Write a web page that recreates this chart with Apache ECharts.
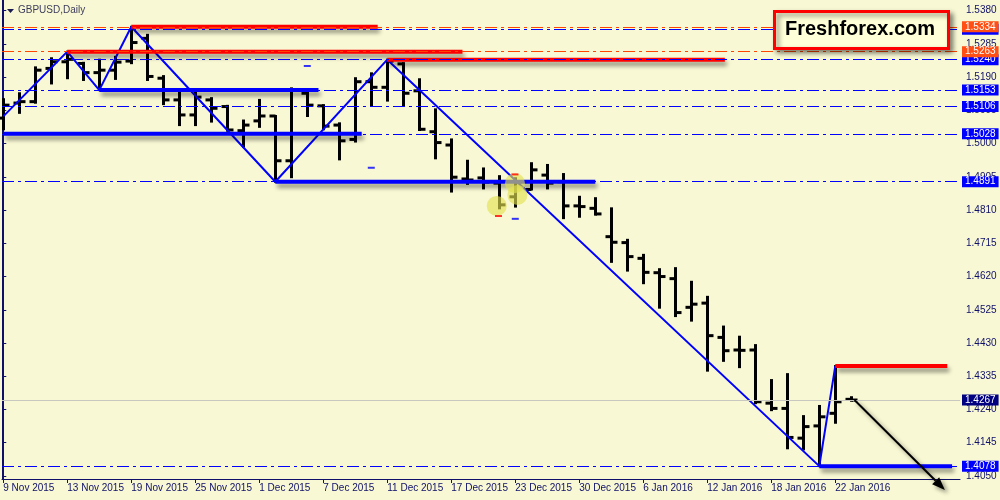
<!DOCTYPE html>
<html>
<head>
<meta charset="utf-8">
<title>GBPUSD Daily</title>
<script src="https://cdn.jsdelivr.net/npm/echarts@6/dist/echarts.min.js"></script>
<style>
  html, body { margin: 0; padding: 0; background: #f8f8d4; }
  #chart { width: 1000px; height: 500px; }
</style>
</head>
<body>
<div id="chart"></div>
<script>
// daily bars, 9 Nov 2015 .. 25 Jan 2016
const dates = [
  '9 Nov 2015', '10 Nov 2015', '11 Nov 2015', '12 Nov 2015', '13 Nov 2015',
  '16 Nov 2015', '17 Nov 2015', '18 Nov 2015', '19 Nov 2015', '20 Nov 2015',
  '23 Nov 2015', '24 Nov 2015', '25 Nov 2015', '26 Nov 2015', '27 Nov 2015',
  '30 Nov 2015', '1 Dec 2015', '2 Dec 2015', '3 Dec 2015', '4 Dec 2015',
  '7 Dec 2015', '8 Dec 2015', '9 Dec 2015', '10 Dec 2015', '11 Dec 2015',
  '14 Dec 2015', '15 Dec 2015', '16 Dec 2015', '17 Dec 2015', '18 Dec 2015',
  '21 Dec 2015', '22 Dec 2015', '23 Dec 2015', '24 Dec 2015', '28 Dec 2015',
  '29 Dec 2015', '30 Dec 2015', '31 Dec 2015', '4 Jan 2016', '5 Jan 2016',
  '6 Jan 2016', '7 Jan 2016', '8 Jan 2016', '11 Jan 2016', '12 Jan 2016',
  '13 Jan 2016', '14 Jan 2016', '15 Jan 2016', '18 Jan 2016', '19 Jan 2016',
  '20 Jan 2016', '21 Jan 2016', '22 Jan 2016', '25 Jan 2016'
];
const opens = [
  1.5073, 1.5116, 1.5120, 1.5215, 1.5234, 1.5229, 1.5203, 1.5210, 1.5236, 1.5301,
  1.5187, 1.5125, 1.5082, 1.5125, 1.5106, 1.5037, 1.5065, 1.5079, 1.4951, 1.5144,
  1.5108, 1.5053, 1.5012, 1.5177, 1.5161, 1.5228, 1.5151, 1.5034, 1.4996, 1.4899,
  1.4902, 1.4887, 1.4848, 1.4869, 1.4910, 1.4891, 1.4822, 1.4815, 1.4734, 1.4717,
  1.4672, 1.4631, 1.4614, 1.4532, 1.4544, 1.4446, 1.4410, 1.4410, 1.4258, 1.4243,
  1.4158, 1.4193, 1.4229, 1.4269
];
const highs = [
  1.5127, 1.5144, 1.5218, 1.5244, 1.5263, 1.5231, 1.5240, 1.5248, 1.5334, 1.5311,
  1.5193, 1.5148, 1.5153, 1.5130, 1.5108, 1.5066, 1.5125, 1.5079, 1.5158, 1.5146,
  1.5110, 1.5058, 1.5187, 1.5201, 1.5240, 1.5230, 1.5184, 1.5098, 1.5012, 1.4951,
  1.4929, 1.4907, 1.4901, 1.4944, 1.4939, 1.4913, 1.4848, 1.4844, 1.4815, 1.4725,
  1.4682, 1.4641, 1.4644, 1.4605, 1.4562, 1.4477, 1.4448, 1.4424, 1.4324, 1.4341,
  1.4221, 1.4250, 1.4364, 1.4275
];
const lows = [
  1.5041, 1.5088, 1.5117, 1.5172, 1.5187, 1.5182, 1.5153, 1.5185, 1.5230, 1.5182,
  1.5113, 1.5053, 1.5053, 1.5063, 1.5037, 1.4991, 1.5048, 1.4891, 1.4904, 1.5079,
  1.5041, 1.4955, 1.5006, 1.5108, 1.5123, 1.5108, 1.5039, 1.4958, 1.4863, 1.4885,
  1.4872, 1.4815, 1.4820, 1.4869, 1.4872, 1.4787, 1.4791, 1.4797, 1.4662, 1.4637,
  1.4601, 1.4531, 1.4507, 1.4494, 1.4351, 1.4379, 1.4361, 1.4258, 1.4238, 1.4129,
  1.4126, 1.4078, 1.4202, 1.4265
];
const closes = [
  1.5110, 1.5120, 1.5210, 1.5234, 1.5241, 1.5203, 1.5210, 1.5233, 1.5289, 1.5192,
  1.5125, 1.5082, 1.5133, 1.5101, 1.5039, 1.5053, 1.5079, 1.4951, 1.5153, 1.5110,
  1.5050, 1.5008, 1.5177, 1.5161, 1.5236, 1.5144, 1.5041, 1.5003, 1.4904, 1.4896,
  1.4890, 1.4825, 1.4890, 1.4925, 1.4887, 1.4822, 1.4820, 1.4799, 1.4718, 1.4677,
  1.4632, 1.4620, 1.4517, 1.4541, 1.4451, 1.4408, 1.4409, 1.4262, 1.4243, 1.4160,
  1.4191, 1.4219, 1.4262, 1.4267
];

// axis ticks
const priceTicks = [1.5380, 1.5285, 1.5190, 1.5095, 1.5000, 1.4905, 1.4810, 1.4715,
  1.4620, 1.4525, 1.4430, 1.4335, 1.4240, 1.4145, 1.4050];
const dateTicks = [0, 4, 8, 12, 16, 20, 24, 28, 32, 36, 40, 44, 48, 52];

// zigzag (bar index, price)
const zigzag = [[0, 1.5078], [4, 1.5263], [6, 1.5153], [8, 1.5334], [17, 1.4891],
  [24, 1.5240], [51, 1.4078], [52, 1.4364]];

// thick resistance / support segments
const resPrices = [1.5334, 1.5263, 1.5240, 1.4364];
const resStart = [8, 4, 24, 52];
const resEnd = [23.4, 28.7, 45.1, 59.0];
const supPrices = [1.5153, 1.5028, 1.4891, 1.4078];
const supStart = [6, 0, 17, 51];
const supEnd = [19.7, 22.4, 37.0, 59.3];

// dash-dot levels with price tags on the right axis
const levelPrices = [1.5327, 1.5334, 1.5240, 1.5263, 1.5153, 1.5106, 1.5028, 1.4891, 1.4078, 1.4267];
const levelKinds = ['blue', 'red', 'blue', 'red', 'blue', 'blue', 'blue', 'blue', 'blue', 'bid'];

// order markers around 22-23 Dec
const markerCircles = [[30.84, 1.4822], [31.98, 1.4887], [32.13, 1.4853]];
const blueDashes = [[19.0, 1.5222], [23.0, 1.4931], [32.0, 1.4785]];
const redDashes = [[30.95, 1.4793], [31.98, 1.4912]];

// forecast arrow (from, to)
const arrowPts = [[53.2, 1.4267], [58.85, 1.4010]];

const FONT = 'Liberation Sans';
const NAVY = '#10106a';

const chart = echarts.init(document.getElementById('chart'));

const ohlc = dates.map((d, i) => [i, opens[i], highs[i], lows[i], closes[i]]);

const levelStyle = {
  red: { line: '#ff4500', tag: '#ff4f14', type: [12, 4, 3, 4] },
  blue: { line: '#0000ff', tag: '#0000ff', type: [12, 4, 3, 4] },
  bid: { line: '#c8c8c0', tag: '#000080', type: 'solid' }
};

const segSeries = (prices, starts, ends, color) => prices.map((p, k) => ({
  type: 'line',
  z: 4,
  symbol: 'none',
  silent: true,
  data: [[starts[k], p], [ends[k], p]],
  lineStyle: {
    color: color, width: 4, cap: 'butt',
    shadowColor: 'rgba(0,0,0,0.45)', shadowBlur: 4, shadowOffsetX: 2, shadowOffsetY: 4
  }
}));

const option = {
  animation: false,
  backgroundColor: '#f8f8d4',
  grid: { left: 2, right: 40, top: 0, bottom: 21 },
  xAxis: {
    type: 'value',
    min: -0.08,
    max: 59.795,
    splitLine: { show: false },
    axisLine: { show: true, onZero: false, lineStyle: { color: NAVY, width: 1 } },
    axisTick: { show: true, customValues: dateTicks, length: 4, lineStyle: { color: NAVY } },
    axisLabel: {
      customValues: dateTicks,
      formatter: v => dates[v] || '',
      align: 'left',
      margin: 4,
      color: NAVY,
      fontFamily: FONT,
      fontSize: 10
    }
  },
  yAxis: [{
    type: 'value',
    position: 'right',
    min: 1.40412,
    max: 1.54106,
    splitLine: { show: false },
    axisLine: { show: true, lineStyle: { color: NAVY, width: 1 } },
    axisTick: { show: true, customValues: priceTicks, length: 3, lineStyle: { color: NAVY } },
    axisLabel: {
      customValues: priceTicks,
      formatter: v => v.toFixed(4),
      margin: 6,
      color: NAVY,
      fontFamily: FONT,
      fontSize: 10
    }
  }, {
    type: 'value',
    position: 'left',
    min: 1.40412,
    max: 1.54106,
    splitLine: { show: false },
    axisLine: { show: true, lineStyle: { color: NAVY, width: 1 } },
    axisTick: { show: false },
    axisLabel: { show: false }
  }],
  graphic: [
    { type: 'polygon', shape: { points: [[7, 9], [14, 9], [10.5, 13]] }, style: { fill: '#1a1a50' } },
    {
      type: 'text', left: 18, top: 5,
      style: { text: 'GBPUSD,Daily', fill: '#3c3c5c', font: '10px "Liberation Sans"' }
    },
    {
      type: 'rect', left: 773, top: 10, z: 10,
      shape: { width: 174, height: 37 },
      style: {
        fill: '#ffffd8', stroke: '#ff0000', lineWidth: 3,
        shadowColor: 'rgba(0,0,0,0.45)', shadowBlur: 5, shadowOffsetX: 3, shadowOffsetY: 3
      }
    },
    {
      type: 'text', z: 11, x: 860, y: 29,
      style: {
        text: 'Freshforex.com', fill: '#000', align: 'center', verticalAlign: 'middle',
        font: 'bold 20px "Liberation Sans"'
      }
    }
  ],
  series: [
    {
      // full width dash-dot levels + right axis tags
      type: 'line',
      z: 1,
      data: [],
      markLine: {
        silent: true,
        symbol: ['none', 'none'],
        precision: 4,
        animation: false,
        data: levelPrices.map((p, k) => {
          const s = levelStyle[levelKinds[k]];
          return {
            yAxis: p,
            lineStyle: { color: s.line, type: s.type, width: 1 },
            label: {
              show: true,
              position: 'end',
              distance: 2,
              formatter: p.toFixed(4),
              color: '#fff',
              backgroundColor: s.tag,
              padding: [1, 3, 0, 3],
              fontFamily: FONT,
              fontSize: 10
            }
          };
        })
      }
    },
    {
      type: 'custom',
      z: 2,
      data: ohlc,
      renderItem: (params, api) => {
        const i = api.value(0);
        const o = api.coord([i, api.value(1)]);
        const h = api.coord([i, api.value(2)]);
        const l = api.coord([i, api.value(3)]);
        const c = api.coord([i, api.value(4)]);
        const x = Math.round(o[0]) + 0.5;
        const st = { stroke: '#000', lineWidth: 3 };
        return {
          type: 'group',
          children: [
            { type: 'line', shape: { x1: x, y1: h[1] - 1, x2: x, y2: l[1] + 1 }, style: st },
            { type: 'line', shape: { x1: x - 6, y1: o[1], x2: x, y2: o[1] }, style: st },
            { type: 'line', shape: { x1: x, y1: c[1], x2: x + 6, y2: c[1] }, style: st }
          ]
        };
      }
    },
    {
      type: 'line',
      z: 3,
      symbol: 'none',
      silent: true,
      data: zigzag,
      lineStyle: { color: '#0000ff', width: 2 }
    },
    ...segSeries(resPrices, resStart, resEnd, '#ff0000'),
    ...segSeries(supPrices, supStart, supEnd, '#0000ff'),
    {
      type: 'scatter',
      z: 5,
      silent: true,
      symbolSize: 20,
      data: markerCircles,
      itemStyle: { color: 'rgba(225,225,80,0.8)' }
    },
    {
      type: 'scatter',
      z: 5,
      silent: true,
      symbol: 'rect',
      symbolSize: [7, 2],
      data: blueDashes,
      itemStyle: { color: '#0000ff' }
    },
    {
      type: 'scatter',
      z: 5,
      silent: true,
      symbol: 'rect',
      symbolSize: [7, 2],
      data: redDashes,
      itemStyle: { color: '#ff0000' }
    },
    {
      // forecast arrow
      type: 'custom',
      z: 6,
      clip: false,
      data: [0],
      renderItem: (params, api) => {
        const a = api.coord(arrowPts[0]);
        const b = api.coord(arrowPts[1]);
        const ang = Math.atan2(b[1] - a[1], b[0] - a[0]);
        const len = 13, half = 5;
        const bx = b[0] - len * Math.cos(ang), by = b[1] - len * Math.sin(ang);
        const nx = -Math.sin(ang) * half, ny = Math.cos(ang) * half;
        const shadow = { shadowColor: 'rgba(0,0,0,0.45)', shadowBlur: 4, shadowOffsetX: 3, shadowOffsetY: 3 };
        return {
          type: 'group',
          children: [
            { type: 'line', shape: { x1: a[0], y1: a[1], x2: bx, y2: by },
              style: Object.assign({ stroke: '#000', lineWidth: 2 }, shadow) },
            { type: 'polygon', shape: { points: [[b[0], b[1]], [bx + nx, by + ny], [bx - nx, by - ny]] },
              style: Object.assign({ fill: '#000' }, shadow) }
          ]
        };
      }
    }
  ]
};

chart.setOption(option);
window.addEventListener('resize', () => chart.resize());
</script>
</body>
</html>
